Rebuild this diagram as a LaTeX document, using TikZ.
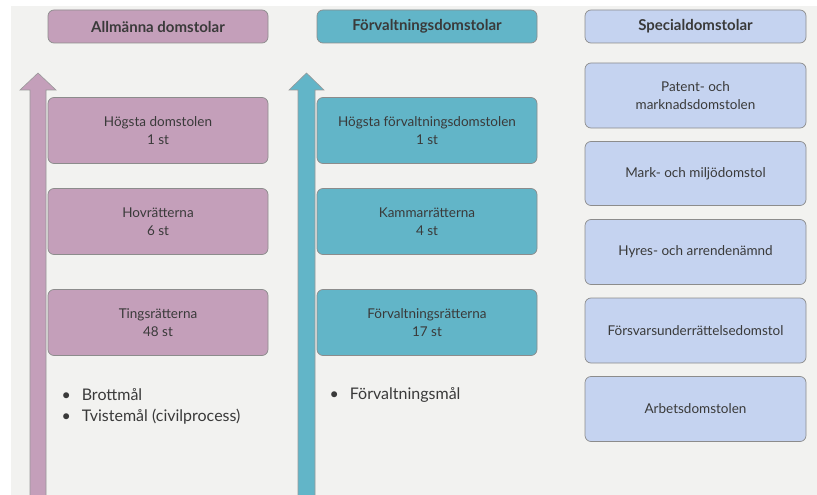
\documentclass[tikz,border=0pt]{standalone}
\usepackage{fontspec}
\setmainfont{Lato}
\usetikzlibrary{positioning}
\definecolor{allm}{HTML}{C49FBA}
\definecolor{forv}{HTML}{62B5C8}
\definecolor{spec}{HTML}{C5D3F0}
\definecolor{bakgr}{HTML}{F2F2F0}
\definecolor{textgr}{HTML}{3A3A3A}
\tikzset{
  domstol/.style={draw=black!45, line width=0.7pt, rounded corners=6pt,
    minimum width=220pt, minimum height=66pt, align=center,
    text=textgr, font=\fontsize{13.5}{18}\selectfont},
  rubrik/.style={domstol, minimum height=33pt, font=\fontsize{15}{17}\selectfont\bfseries},
  punkt/.style={anchor=west, text=textgr, font=\fontsize{16}{18}\selectfont},
}

\begin{document}
\begin{tikzpicture}[x=1pt,y=-1pt]

\useasboundingbox (0,0) rectangle (817,495);
\fill[bakgr] (11,6) rectangle (817,495);

% pilar
\filldraw[fill=allm, draw=black!40, line width=0.6pt]
  (30,495) -- (30,90) -- (20,90) -- (38,73) -- (56,90) -- (46,90) -- (46,495);
\filldraw[fill=forv, draw=black!40, line width=0.6pt]
  (298,495) -- (298,90) -- (289,90) -- (306.5,73) -- (324,90) -- (315,90) -- (315,495);

% allmänna domstolar
\node[rubrik, fill=allm] (AD) at (158,26.5) {Allmänna domstolar};
\node[domstol, fill=allm] (HD) at (158,130.5) {Högsta domstolen\\1 st};
\node[domstol, fill=allm] (HovR) at (158,221.5) {Hovrätterna\\6 st};
\node[domstol, fill=allm] (TR) at (158,322.5) {Tingsrätterna\\48 st};
\node[punkt] (AD1) at (58,395) {\textbullet\hspace{11pt}Brottmål};
\node[punkt] (AD2) at (58,417) {\textbullet\hspace{11pt}Tvistemål (civilprocess)};
%%%
\node[rubrik, fill=forv] (FD) at (427,26.5) {Förvaltningsdomstolar};
\node[domstol, fill=forv] (HFD) at (427,130.5) {Högsta förvaltningsdomstolen\\1 st};
\node[domstol, fill=forv] (KR) at (427,221.5) {Kammarrätterna\\4 st};
\node[domstol, fill=forv] (FR) at (427,322.5) {Förvaltningsrätterna\\17 st};
\node[punkt] (FD1) at (326,395) {\textbullet\hspace{11pt}Förvaltningsmål};
%%%
\node[rubrik, fill=spec, minimum width=221pt] (SD) at (695.5,26.5) {Specialdomstolar};
\node[domstol, fill=spec, minimum width=221pt, minimum height=65pt] (PMD) at (695.5,95.5) {Patent- och\\marknadsdomstolen};
\node[domstol, fill=spec, minimum width=221pt, minimum height=64pt] (MMD) at (695.5,173.5) {Mark- och miljödomstol};
\node[domstol, fill=spec, minimum width=221pt, minimum height=65pt] (HAN) at (695.5,252) {Hyres- och arrendenämnd};
\node[domstol, fill=spec, minimum width=221pt, minimum height=65pt] (FUD) at (695.5,330.5) {Försvarsunderrättelsedomstol};
\node[domstol, fill=spec, minimum width=221pt, minimum height=65pt] (ArbD) at (695.5,409) {Arbetsdomstolen};

\end{tikzpicture}
\end{document}
